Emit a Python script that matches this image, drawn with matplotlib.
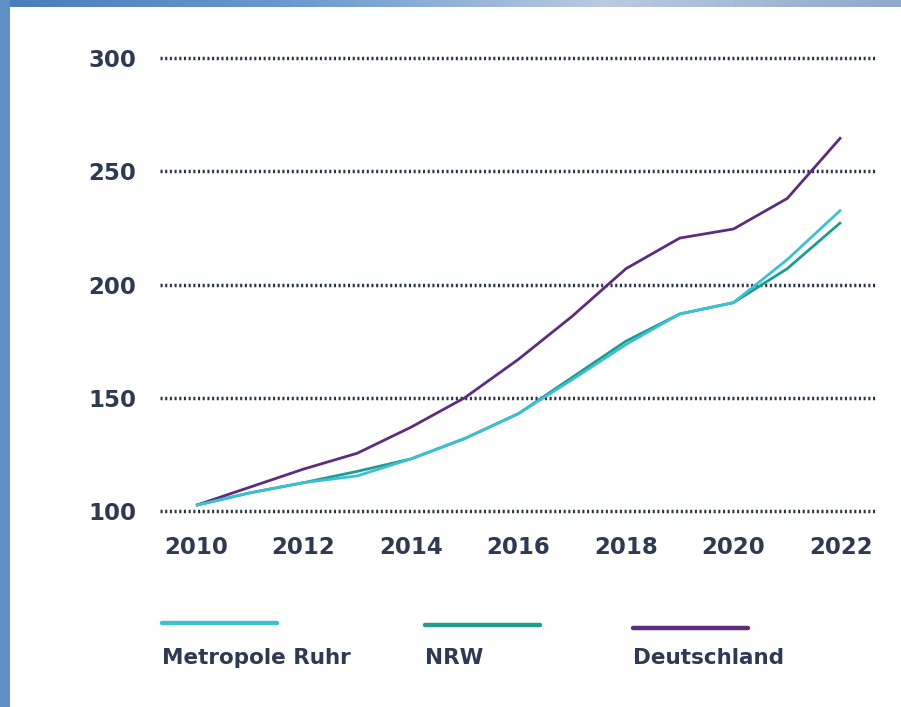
import matplotlib
matplotlib.use("Agg")
import matplotlib.pyplot as plt
from matplotlib.lines import Line2D
from matplotlib.patches import Rectangle
from matplotlib.colors import LinearSegmentedColormap
import numpy as np

years = [2010, 2011, 2012, 2013, 2014, 2015, 2016, 2017, 2018, 2019, 2020, 2021, 2022]
ruhr = [102.5, 108, 112.5, 115.5, 123, 132, 143, 158, 173.5, 187, 192, 211, 233]
nrw = [102.5, 108, 112.5, 117.5, 123, 132, 143, 159, 175, 187, 192, 207, 227.5]
deutschland = [102.5, 110.5, 118.5, 125.5, 137, 150, 167, 186, 207, 220.5, 224.5, 238, 265]

y_ticks = [100, 150, 200, 250, 300]
x_ticks = [2010, 2012, 2014, 2016, 2018, 2020, 2022]
series_names = ["Metropole Ruhr", "NRW", "Deutschland"]
series_colors = ["#3CC0D2", "#1E9C8E", "#5C2D7C"]

W, H = 901, 707
fig = plt.figure(figsize=(W / 100, H / 100), dpi=100)
fig.patch.set_facecolor("#5F8FC6")
# white panel
fig.add_artist(Rectangle((10 / W, 0), 1, 1 - 7 / H, transform=fig.transFigure,
                         facecolor="white", edgecolor="none", zorder=0))
# top band gradient
grad = np.linspace(0, 1, 256).reshape(1, -1)
gax = fig.add_axes([10 / W, 1 - 7 / H, 1 - 10 / W, 7 / H])
cm = LinearSegmentedColormap.from_list("b", ["#4A7DBB", "#6E9BD0", "#B9CBE0", "#8FA9CC"])
gax.imshow(grad, aspect="auto", cmap=cm)
gax.axis("off")

txt = "#2E3A52"
font = "DejaVu Sans"

ax_l, ax_r = 160, 875
ax_t, ax_b = 58, 511
ax = fig.add_axes([ax_l / W, 1 - ax_b / H, (ax_r - ax_l) / W, (ax_b - ax_t) / H])
ax.set_facecolor("none")
ppy = (841 - 196) / 12
ax.set_xlim(2010 - (196 - ax_l) / ppy, 2022 + (ax_r - 841) / ppy)
ax.set_ylim(100, 300)

for yv in y_ticks:
    ax.axhline(yv, color="#2A3447", lw=2.5, linestyle=(0, (0.6, 0.75)), zorder=1,
               clip_on=False, dash_capstyle="butt")

for vals, c in zip([deutschland, nrw, ruhr], [series_colors[2], series_colors[1], series_colors[0]]):
    ax.plot(years, vals, color=c, lw=2.0, zorder=3, clip_on=False,
            solid_joinstyle="round", solid_capstyle="butt")

for s in ax.spines.values():
    s.set_visible(False)
ax.set_yticks(y_ticks)
ax.set_yticklabels([str(v) for v in y_ticks])
ax.set_xticks(x_ticks)
ax.set_xticklabels([str(v) for v in x_ticks])
ax.tick_params(length=0, colors=txt, labelsize=16.5)
ax.tick_params(axis="y", pad=17)
ax.tick_params(axis="x", pad=18)
for lab in ax.get_xticklabels() + ax.get_yticklabels():
    lab.set_fontweight("bold")
    lab.set_fontfamily(font)

# legend
leg_x = [162, 425, 633]
leg_line_y = [623, 625, 628]
for name, c, x0, ly in zip(series_names, series_colors, leg_x, leg_line_y):
    fig.add_artist(Line2D([x0 / W, (x0 + 115) / W], [1 - ly / H, 1 - ly / H],
                          transform=fig.transFigure, color=c, lw=3.2,
                          solid_capstyle="round"))
    fig.text(x0 / W, 1 - 658 / H, name, ha="left", va="center", color=txt,
             fontsize=15.5, fontweight="bold", family=font)

fig.savefig("out.png", dpi=100, facecolor=fig.get_facecolor())
